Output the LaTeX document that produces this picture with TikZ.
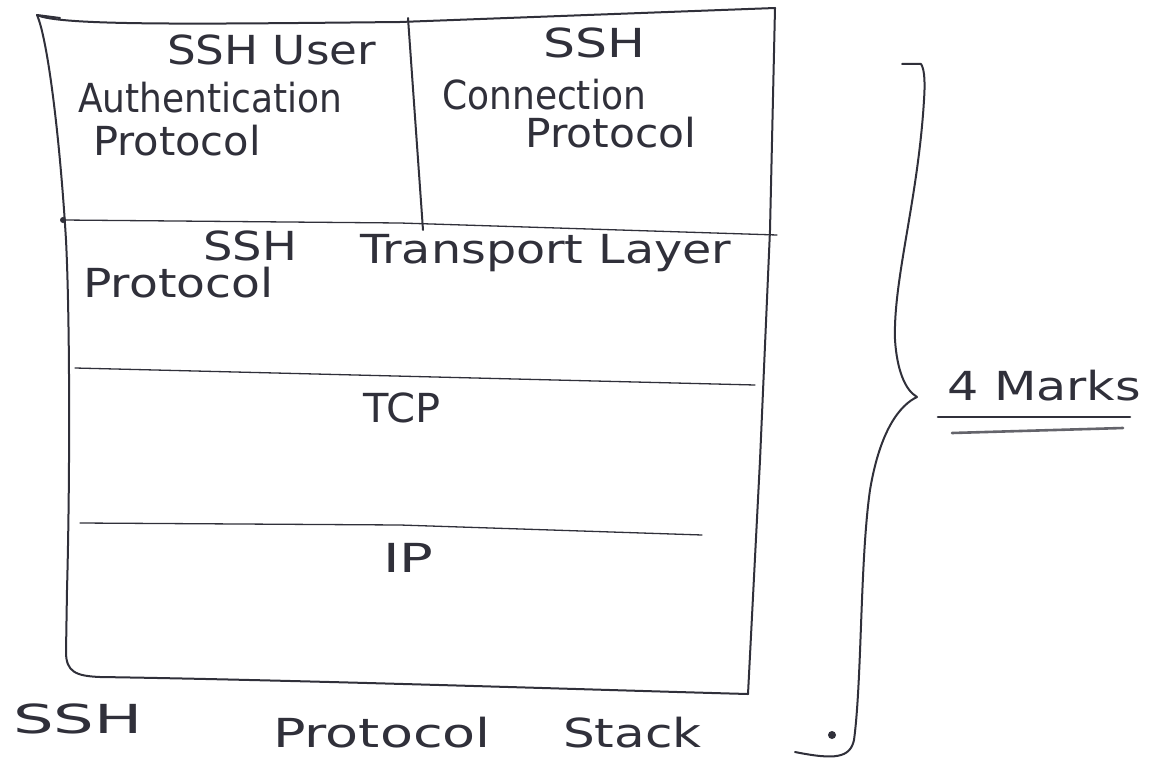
\documentclass[tikz,border=0pt]{standalone}
\usepackage{graphicx}
\usepackage{fontspec}
\setmainfont{DejaVu Sans}
\definecolor{ink}{RGB}{48,48,58}
\begin{document}
\begin{tikzpicture}[x=1pt,y=-1pt,
  pen/.style={draw=ink,line width=2pt,line cap=round,line join=round},
  thin pen/.style={draw=ink,line width=1.3pt,line cap=round,line join=round},
  lbl/.style={text=ink,font=\fontsize{40}{44}\selectfont,inner sep=0pt,anchor=base west}]
\useasboundingbox[fill=white] (0,0) rectangle (1155,765);

% outer frame of the stack
\draw[pen] (60,18) -- (37,15) .. controls (48,40) and (60,140) .. (66,240)
  .. controls (70,320) and (70,480) .. (67,590)
  -- (66,652) .. controls (66,672) and (76,676) .. (100,677)
  .. controls (300,680) and (600,690) .. (748,694);
\draw[pen] (37,15) .. controls (60,26) and (200,24) .. (400,22) -- (775,8);
\draw[pen] (775,8) -- (770,230) -- (760,460) -- (748,694);

% layer separators
\draw[pen] (408,18) -- (423,230);
\fill[ink] (63,220) circle (3pt);
\draw[thin pen] (63,220) -- (400,223) -- (777,235);
\draw[thin pen] (75,368) -- (755,385);
\draw[thin pen] (80,523) -- (400,525) -- (702,535);

% layer labels
\node[lbl] (ua1) at (167,65) {\scalebox{1.13}[1]{SSH User}};
\node[lbl] (ua2) at (78,113) {\scalebox{0.9}[1]{Authentication}};
\node[lbl] (ua3) at (93,155) {\scalebox{1.04}[1]{Protocol}};
\node[lbl] (cp1) at (543,58) {\scalebox{1.26}[1]{SSH}};
\node[lbl] (cp2) at (442,110) {\scalebox{0.9}[1]{Connection}};
\node[lbl] (cp3) at (525,147) {\scalebox{1.06}[1]{Protocol}};
\node[lbl] (tl1) at (203,260) {\scalebox{1.16}[1]{SSH}};
\node[lbl] (tl2) at (360,263) {\scalebox{1.19}[1]{Transport Layer}};
\node[lbl] (tl3) at (83,297) {\scalebox{1.18}[1]{Protocol}};
\node[lbl] (tcp) at (363,422) {\scalebox{1.04}[1]{TCP}};
\node[lbl] (ip) at (383,572) {\scalebox{1.4}[1]{IP}};

% caption under the stack
\node[lbl] (cap1) at (13,733) {\scalebox{1.6}[1]{SSH}};
\node[lbl] (cap2) at (273,747) {\scalebox{1.35}[1]{Protocol}};
\node[lbl] (cap3) at (563,747) {\scalebox{1.25}[1]{Stack}};

% brace with the mark note
\draw[pen] (902,64) -- (921,64) .. controls (925,70) and (925,85) .. (924,100)
  .. controls (918,200) and (893,280) .. (895,340)
  .. controls (897,370) and (905,390) .. (917,397)
  .. controls (900,405) and (880,430) .. (870,490)
  .. controls (860,560) and (862,680) .. (854,740)
  .. controls (850,758) and (835,760) .. (795,752);
\fill[ink] (832,735) circle (4pt);
\node[lbl] (marks) at (947,400) {\scalebox{1.23}[1]{4 Marks}};
\draw[pen,line width=2.6pt] (938,417) -- (1130,417);
\draw[pen,line width=2.6pt,draw=ink!75] (952,433) -- (1123,428);
\end{tikzpicture}
\end{document}
